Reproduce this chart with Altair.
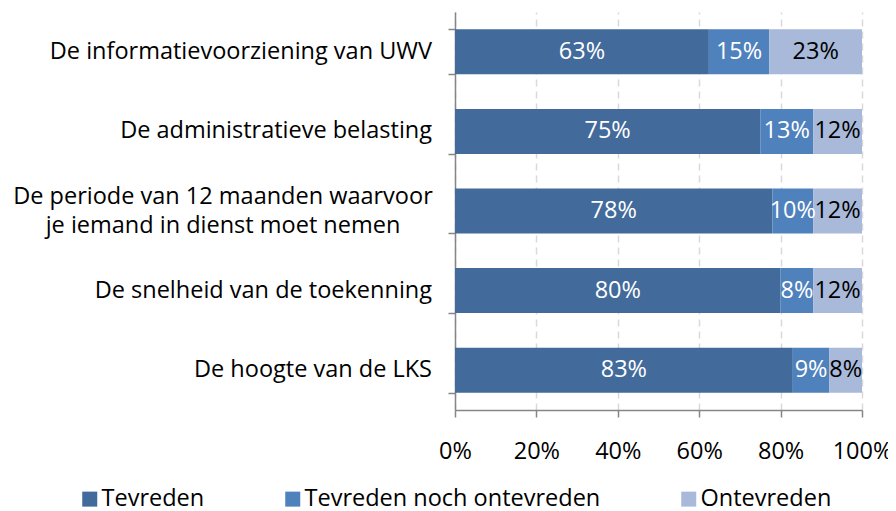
import altair as alt
import pandas as pd

categories = [
    "De informatievoorziening van UWV",
    "De administratieve belasting",
    "De periode van 12 maanden waarvoor|je iemand in dienst moet nemen",
    "De snelheid van de toekenning",
    "De hoogte van de LKS",
]
series = ["Tevreden", "Tevreden noch ontevreden", "Ontevreden"]
tevreden = [63, 75, 78, 80, 83]
neutraal = [15, 13, 10, 8, 9]
ontevreden = [23, 12, 12, 12, 8]
colors = ["#426a9b", "#4f81bd", "#a8b9d9"]
x_ticks = [0, 0.2, 0.4, 0.6, 0.8, 1.0]

rows = []
for i, c in enumerate(categories):
    for j, (s, vals) in enumerate(zip(series, [tevreden, neutraal, ontevreden])):
        rows.append({"category": c, "series": s, "order": j, "value": vals[i]})
df = pd.DataFrame(rows)
cat_df = pd.DataFrame({"category": categories})

FONT = "Open Sans"
FS = 23.5
MULTI = "indexof(datum.category, '|') >= 0"

base = (
    alt.Chart(df)
    .transform_joinaggregate(total="sum(value)", groupby=["category"])
    .transform_calculate(pct="datum.value / datum.total")
    .transform_stack(
        stack="pct",
        groupby=["category"],
        as_=["x0", "x1"],
        sort=[alt.SortField("order", order="ascending")],
    )
    .transform_calculate(mid="(datum.x0 + datum.x1) / 2", label="datum.value + '%'")
)

y_enc = alt.Y(
    "category:N",
    sort=categories,
    title=None,
    scale=alt.Scale(paddingInner=0.435, paddingOuter=0.2175),
    axis=alt.Axis(
        labels=False,
        domainColor="#868686",
        domainWidth=1.5,
        tickColor="#868686",
        tickWidth=1.5,
        tickSize=7,
        tickBand="extent",
        grid=False,
    ),
)

bars = base.mark_bar().encode(
    x=alt.X(
        "x0:Q",
        scale=alt.Scale(domain=[0, 1], nice=False),
        title=None,
        axis=alt.Axis(
            values=x_ticks,
            format=".0%",
            labelFont=FONT,
            labelFontSize=FS,
            labelColor="#000000",
            labelPadding=22,
            labelOverlap=False,
            labelFlush=False,
            domainColor="#868686",
            domainWidth=1.5,
            tickColor="#868686",
            tickWidth=1.5,
            tickSize=7,
            grid=True,
            gridColor="#d9d9d9",
            gridDash=[7, 5],
            gridWidth=1.5,
        ),
    ),
    x2="x1:Q",
    y=y_enc,
    color=alt.Color(
        "series:N",
        sort=series,
        scale=alt.Scale(domain=series, range=colors),
        legend=alt.Legend(
            title=None,
            orient="none",
            direction="horizontal",
            legendX=-377,
            legendY=475,
            symbolType="square",
            symbolSize=225,
            symbolStrokeWidth=0,
            labelFont=FONT,
            labelFontSize=FS,
            labelColor="#000000",
            labelLimit=600,
            columnPadding=76,
            labelOffset=0,
            padding=0,
        ),
    ),
    order=alt.Order("order:Q"),
)

texts = base.mark_text(font=FONT, fontSize=FS).encode(
    x="mid:Q",
    y=alt.Y("category:N", sort=categories),
    text="label:N",
    color=alt.condition(
        "datum.series === 'Ontevreden'", alt.value("#000000"), alt.value("#ffffff")
    ),
)

cat_single = (
    alt.Chart(cat_df)
    .transform_filter("!(" + MULTI + ")")
    .mark_text(font=FONT, fontSize=FS, align="right", baseline="middle", color="#000000")
    .encode(
        x=alt.value(-23),
        y=alt.Y("category:N", sort=categories),
        text="category:N",
    )
)

cat_multi = (
    alt.Chart(cat_df)
    .transform_filter(MULTI)
    .transform_calculate(lines="split(datum.category, '|')")
    .mark_text(
        font=FONT,
        fontSize=FS,
        align="center",
        baseline="middle",
        lineHeight=29,
        dy=-14,
        color="#000000",
    )
    .encode(
        x=alt.value(-232),
        y=alt.Y("category:N", sort=categories),
        text="lines:N",
    )
)

chart = (
    alt.layer(bars, texts, cat_single, cat_multi)
    .properties(
        width=407,
        height=398,
        padding={"left": 447, "top": 4, "right": 26, "bottom": 103},
        autosize=alt.AutoSizeParams(type="none"),
    )
    .configure_view(stroke=None)
)

chart.save("out.html", embed_options={"renderer": "svg", "actions": False})
